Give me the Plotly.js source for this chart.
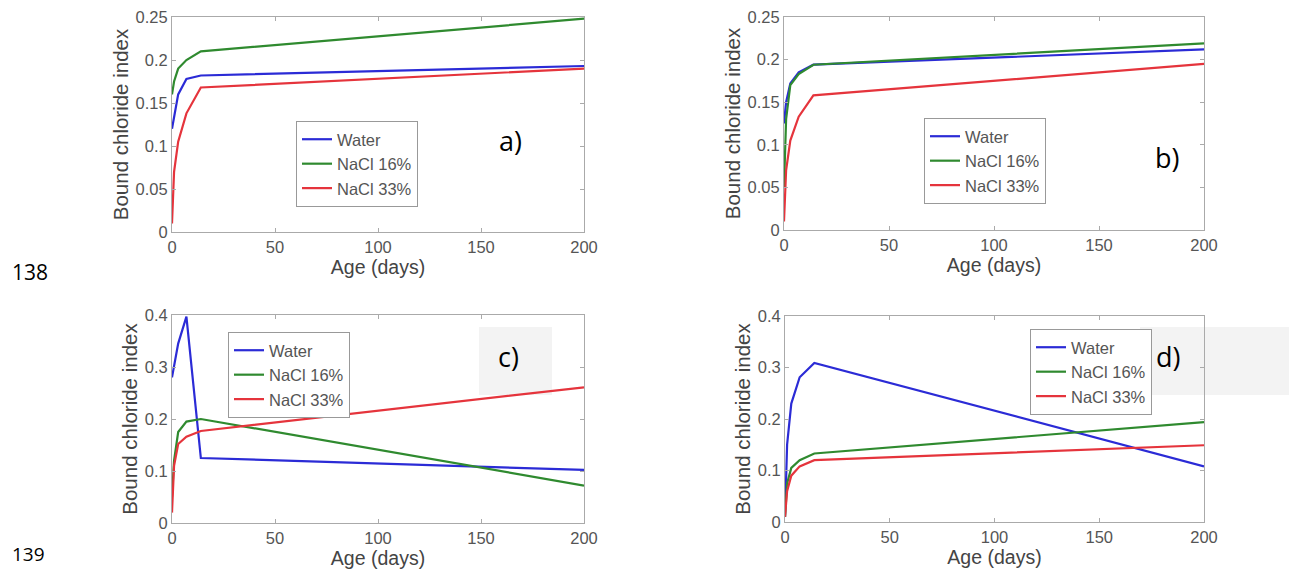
<!DOCTYPE html>
<html>
<head>
<meta charset="utf-8">
<script src="https://cdn.plot.ly/plotly-3.0.1.min.js"></script>
<style>html,body{margin:0;padding:0;background:#fff;}#chart{width:1289px;height:569px;}</style>
</head>
<body>
<div id="chart"></div>
<script>
// Data
const ageDays = [0, 1, 3, 7, 14, 200];
const seriesNames = ["Water", "NaCl 16%", "NaCl 33%"];
const panelLabels = ["a)", "b)", "c)", "d)"];
const pageNumbers = ["138", "139"];

const waterA = [0.12, 0.135, 0.16, 0.178, 0.182, 0.193];
const nacl16A = [0.16, 0.175, 0.19, 0.2, 0.21, 0.248];
const nacl33A = [0.01, 0.07, 0.105, 0.138, 0.168, 0.19];

const waterB = [0.125, 0.15, 0.172, 0.185, 0.194, 0.212];
const nacl16B = [0.05, 0.13, 0.17, 0.183, 0.194, 0.219];
const nacl33B = [0.01, 0.07, 0.105, 0.133, 0.158, 0.195];

const waterC = [0.28, 0.30, 0.345, 0.397, 0.125, 0.102];
const nacl16C = [0.05, 0.12, 0.175, 0.195, 0.2, 0.072];
const nacl33C = [0.02, 0.11, 0.152, 0.166, 0.177, 0.261];

const waterD = [0.01, 0.15, 0.23, 0.281, 0.309, 0.108];
const nacl16D = [0.01, 0.075, 0.105, 0.12, 0.133, 0.194];
const nacl33D = [0.01, 0.06, 0.09, 0.108, 0.12, 0.149];

const colors = ["#2b2bd6", "#2f8a2f", "#e5343c"];
const W = 1289, H = 569;

const panels = [
  {vals: [waterA, nacl16A, nacl33A], x0: 172, x1: 584, top: 17, bot: 232, ymax: 0.25, dtick: 0.05, leg: [296, 121], lab: [510, 140]},
  {vals: [waterB, nacl16B, nacl33B], x0: 784, x1: 1204, top: 17, bot: 230, ymax: 0.25, dtick: 0.05, leg: [924, 118], lab: [1167, 157]},
  {vals: [waterC, nacl16C, nacl33C], x0: 172, x1: 584, top: 315, bot: 523, ymax: 0.4, dtick: 0.1, leg: [228, 332], lab: [508, 356]},
  {vals: [waterD, nacl16D, nacl33D], x0: 785, x1: 1204, top: 316, bot: 522, ymax: 0.4, dtick: 0.1, leg: [1030, 329], lab: [1168, 356]}
];

const traces = [];
const layout = {
  width: W, height: H,
  margin: {l: 0, r: 0, t: 0, b: 0},
  paper_bgcolor: "#ffffff",
  plot_bgcolor: "rgba(0,0,0,0)",
  font: {family: "Liberation Sans, Arial, sans-serif", color: "#555"},
  showlegend: true,
  annotations: [],
  shapes: []
};

panels.forEach((p, i) => {
  const n = i === 0 ? "" : String(i + 1);
  const legName = "legend" + n;
  p.vals.forEach((v, k) => {
    traces.push({
      type: "scatter", mode: "lines",
      x: ageDays, y: v,
      name: seriesNames[k],
      xaxis: "x" + n, yaxis: "y" + n,
      legend: legName,
      line: {color: colors[k], width: 2.2}
    });
  });
  const axCommon = {
    showline: true, mirror: "ticks", linecolor: "#aaa", linewidth: 1,
    ticks: "inside", ticklen: 4, tickcolor: "#aaa",
    showgrid: false, zeroline: false,
    tickfont: {size: 16.5, color: "#555", family: "Liberation Sans, Arial, sans-serif"}
  };
  layout["xaxis" + n] = Object.assign({}, axCommon, {
    domain: [p.x0 / W, p.x1 / W],
    range: [0, 200], dtick: 50, tick0: 0,
    anchor: "y" + n,
    title: {text: "Age (days)", standoff: 3, font: {size: 19.5, color: "#444"}}
  });
  layout["yaxis" + n] = Object.assign({}, axCommon, {
    domain: [1 - p.bot / H, 1 - p.top / H],
    range: [0, p.ymax], dtick: p.dtick, tick0: 0,
    anchor: "x" + n,
    title: {text: "Bound chloride index", standoff: 1, font: {size: 20.5, color: "#444"}}
  });
  layout[legName] = {
    x: p.leg[0] / W, y: 1 - p.leg[1] / H, xanchor: "left", yanchor: "top",
    bgcolor: "#ffffff", bordercolor: "#999", borderwidth: 1,
    font: {size: 16.5, color: "#555", family: "Liberation Sans, Arial, sans-serif"},
    itemwidth: 30, tracegroupgap: 0
  };
  layout.annotations.push({
    text: panelLabels[i], xref: "paper", yref: "paper",
    x: p.lab[0] / W, y: 1 - p.lab[1] / H, xanchor: "center", yanchor: "middle",
    showarrow: false, font: {size: 27, color: "#000", family: "Open Sans, sans-serif"}
  });
});

// light gray label boxes in panels c and d
layout.shapes.push({type: "rect", xref: "paper", yref: "paper", layer: "below",
  x0: 479 / W, x1: 552 / W, y0: 1 - 395 / H, y1: 1 - 327 / H,
  fillcolor: "#f3f3f3", line: {width: 0}});
layout.shapes.push({type: "rect", xref: "paper", yref: "paper", layer: "below",
  x0: 1140 / W, x1: 1 , y0: 1 - 395 / H, y1: 1 - 327 / H,
  fillcolor: "#f3f3f3", line: {width: 0}});

layout.annotations.push({
  text: pageNumbers[0], xref: "paper", yref: "paper",
  x: 10 / W, y: 1 - 256 / H, xanchor: "left", yanchor: "top",
  showarrow: false, font: {size: 21, color: "#000", family: "Open Sans, sans-serif"}
});
layout.annotations.push({
  text: pageNumbers[1], xref: "paper", yref: "paper",
  x: 10 / W, y: 0, xanchor: "left", yanchor: "bottom",
  showarrow: false, font: {size: 19, color: "#000", family: "Open Sans, sans-serif"}
});

Plotly.newPlot("chart", traces, layout, {displayModeBar: false, staticPlot: true});
</script>
</body>
</html>
